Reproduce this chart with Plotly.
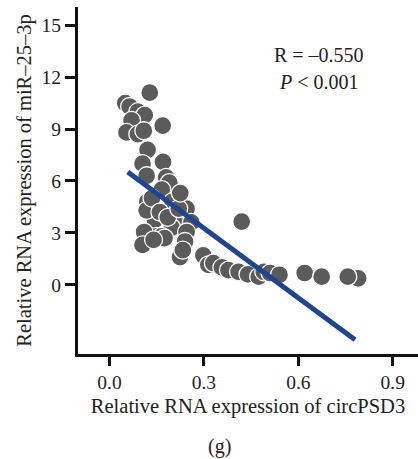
import plotly.graph_objects as go

# circPSD3 (x) vs miR-25-3p (y)
circ_psd3 = [0.05, 0.064, 0.09, 0.128, 0.112, 0.07, 0.054, 0.169, 0.09, 0.109,
             0.121, 0.17, 0.105, 0.118, 0.18, 0.19, 0.166, 0.21, 0.245, 0.128,
             0.12, 0.2, 0.144, 0.144, 0.21, 0.26, 0.118, 0.198, 0.245, 0.15,
             0.11, 0.166, 0.105, 0.24, 0.224, 0.233, 0.42,
             0.135, 0.16, 0.185, 0.175, 0.14, 0.22, 0.225,
             0.298, 0.314, 0.33, 0.357, 0.378, 0.41, 0.44, 0.474, 0.49, 0.51,
             0.54, 0.62, 0.79, 0.674, 0.757]
mir_25_3p = [10.5, 10.3, 10.0, 11.1, 9.8, 9.5, 8.8, 9.2, 8.7, 8.9,
             7.8, 7.1, 7.0, 6.3, 6.2, 5.9, 5.5, 4.9, 4.4, 4.5,
             4.8, 4.8, 3.9, 3.75, 3.6, 3.6, 4.3, 3.3, 3.05, 2.8,
             3.05, 2.8, 2.3, 2.5, 1.6, 2.0, 3.65,
             5.0, 4.2, 3.9, 2.7, 2.6, 4.4, 5.3,
             1.7, 1.15, 1.25, 1.0, 0.85, 0.75, 0.6, 0.47, 0.75, 0.68,
             0.58, 0.68, 0.37, 0.47, 0.47]

fit_x = [0.058, 0.78]
fit_y = [6.52, -3.17]

x_ticks = [0.0, 0.3, 0.6, 0.9]
y_ticks = [0, 3, 6, 9, 12, 15]

FONT = "Liberation Serif"
TITLE_SIZE = 20.5

fig = go.Figure()
fig.add_trace(go.Scatter(
    x=circ_psd3, y=mir_25_3p, mode="markers",
    marker=dict(size=18, color="#5b5b5b", line=dict(color="white", width=1.3)),
    showlegend=False, hoverinfo="skip"))
fig.add_trace(go.Scatter(
    x=fit_x, y=fit_y, mode="lines",
    line=dict(color="#1f4591", width=5),
    showlegend=False, hoverinfo="skip"))

fig.update_layout(
    width=418, height=459,
    margin=dict(l=78, r=0, t=7, b=105),
    plot_bgcolor="white", paper_bgcolor="white",
    font=dict(family=FONT, size=19.5, color="#222"),
    xaxis=dict(range=[-0.1, 0.98], tickvals=x_ticks, tickformat=".1f",
               showgrid=False, zeroline=False, showline=True, linecolor="#111",
               linewidth=3, ticks="outside", ticklen=9, tickwidth=3, tickcolor="#111",
               title=dict(text="Relative RNA expression of circPSD3", standoff=7,
                          font=dict(size=TITLE_SIZE))),
    yaxis=dict(range=[-4, 16.05], tickvals=y_ticks,
               showgrid=False, zeroline=False, showline=True, linecolor="#111",
               linewidth=3, ticks="outside", ticklen=10, tickwidth=3, tickcolor="#111",
               title=dict(text="Relative RNA expression of miR–25–3p", standoff=5,
                          font=dict(size=TITLE_SIZE))),
)

# annotation positions given in pixels, converted to paper coordinates
W, H = 418, 459
l, r, t, b = 78, 0, 7, 105
pw, ph = W - l - r, H - t - b
ann = [("R = –0.550", 319, 55, 20), ("<i>P</i> < 0.001", 319, 82, 20), ("(g)", 219, 446, 20)]
for text, px, py, sz in ann:
    fig.add_annotation(text=text, showarrow=False, xref="paper", yref="paper",
                       x=(px - l) / pw, y=1 - (py - t) / ph,
                       xanchor="center", yanchor="middle",
                       font=dict(family=FONT, size=sz, color="#222"))

fig.write_html("out.html")
